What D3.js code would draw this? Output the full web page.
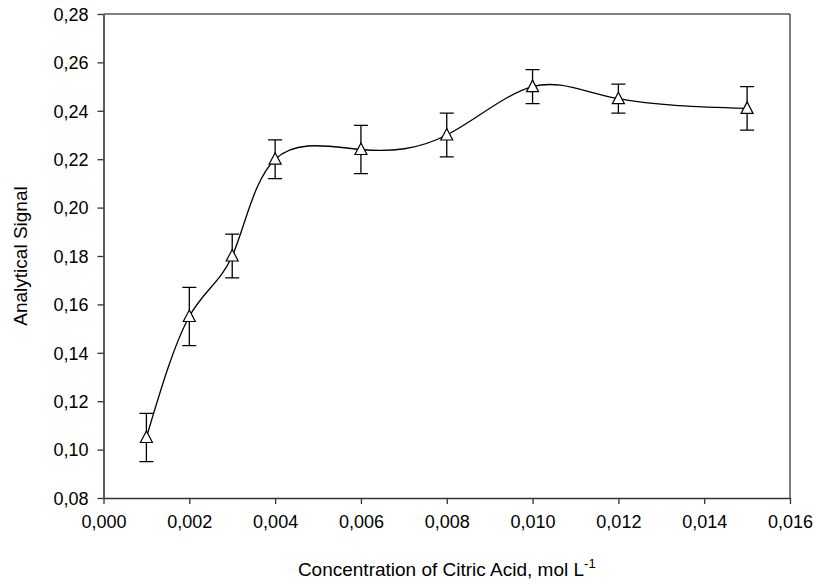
<!DOCTYPE html>
<html>
<head>
<meta charset="utf-8">
<script src="https://cdn.jsdelivr.net/npm/d3@7"></script>
<style>
  html, body { margin: 0; padding: 0; background: #fff; }
  svg { display: block; font-family: Arial, "Liberation Sans", sans-serif; }
</style>
</head>
<body>
<svg id="chart" width="818" height="585"></svg>
<script>
const concentrations = [0.001, 0.002, 0.003, 0.004, 0.006, 0.008, 0.010, 0.012, 0.015];
const signals = [0.105, 0.155, 0.180, 0.220, 0.224, 0.230, 0.250, 0.245, 0.241];
const errors = [0.010, 0.012, 0.009, 0.008, 0.010, 0.009, 0.007, 0.006, 0.009];
const xTicks = [0, 0.002, 0.004, 0.006, 0.008, 0.010, 0.012, 0.014, 0.016];
const yTicks = [0.08, 0.10, 0.12, 0.14, 0.16, 0.18, 0.20, 0.22, 0.24, 0.26, 0.28];

const data = concentrations.map((c, i) => ({ x: c, y: signals[i], e: errors[i] }));

const margin = { left: 103.5, right: 28, top: 14, bottom: 87 };
const W = 818, H = 585;
const svg = d3.select("#chart");

const x = d3.scaleLinear().domain([0, 0.016]).range([margin.left, W - margin.right]);
const y = d3.scaleLinear().domain([0.08, 0.28]).range([H - margin.bottom, margin.top]);

const fmt3 = d => d3.format(".3f")(d).replace(".", ",");
const fmt2 = d => d3.format(".2f")(d).replace(".", ",");

// frame (top/right)
svg.append("path")
  .attr("d", `M${x(0)},${y(0.28)}H${x(0.016)}V${y(0.08)}`)
  .attr("fill", "none").attr("stroke", "#000").attr("stroke-width", 1);

// axes
const xAxis = svg.append("g")
  .attr("transform", `translate(0,${y(0.08)})`)
  .call(d3.axisBottom(x).tickValues(xTicks).tickFormat(fmt3).tickSizeInner(6).tickSizeOuter(0).tickPadding(11));
const yAxis = svg.append("g")
  .attr("transform", `translate(${x(0)},0)`)
  .call(d3.axisLeft(y).tickValues(yTicks).tickFormat(fmt2).tickSizeInner(6).tickSizeOuter(0).tickPadding(9));

[xAxis, yAxis].forEach(g => {
  g.select(".domain").attr("stroke", "#333").attr("stroke-width", 1.6);
  g.selectAll(".tick line").attr("stroke", "#333").attr("stroke-width", 1.3);
  g.selectAll(".tick text").attr("fill", "#000").style("font-size", "18px")
    .style("font-family", "Arial, 'Liberation Sans', sans-serif");
});
xAxis.selectAll(".tick text").attr("dy", "0.71em");
yAxis.selectAll(".tick text").attr("dy", "0.35em");

// curve
const line = d3.line().x(d => x(d.x)).y(d => y(d.y)).curve(d3.curveNatural);
svg.append("path").datum(data)
  .attr("d", line).attr("fill", "none").attr("stroke", "#000").attr("stroke-width", 1.3);

// error bars
const eb = svg.append("g").attr("stroke", "#000").attr("stroke-width", 1.3).attr("fill", "none");
data.forEach(d => {
  const cx = x(d.x);
  eb.append("path").attr("d",
    `M${cx},${y(d.y + d.e)}V${y(d.y - d.e)}` +
    `M${cx - 7},${y(d.y + d.e)}H${cx + 7}` +
    `M${cx - 7},${y(d.y - d.e)}H${cx + 7}`);
});

// triangle markers
svg.append("g").selectAll("path").data(data).join("path")
  .attr("transform", d => `translate(${x(d.x)},${y(d.y)})`)
  .attr("d", "M0,-6.5L6,5L-6,5Z")
  .attr("fill", "#fff").attr("stroke", "#000").attr("stroke-width", 1.2);

// axis titles
svg.append("text")
  .attr("x", (x(0) + x(0.016)) / 2).attr("y", 576)
  .attr("text-anchor", "middle").style("font-size", "19px").attr("fill", "#000")
  .text("Concentration of Citric Acid, mol L")
  .append("tspan").attr("dy", "-8").style("font-size", "13px").text("-1");

svg.append("text")
  .attr("transform", `translate(27,${(y(0.08) + y(0.28)) / 2}) rotate(-90)`)
  .attr("text-anchor", "middle").style("font-size", "19px").attr("fill", "#000")
  .text("Analytical Signal");
</script>
</body>
</html>
